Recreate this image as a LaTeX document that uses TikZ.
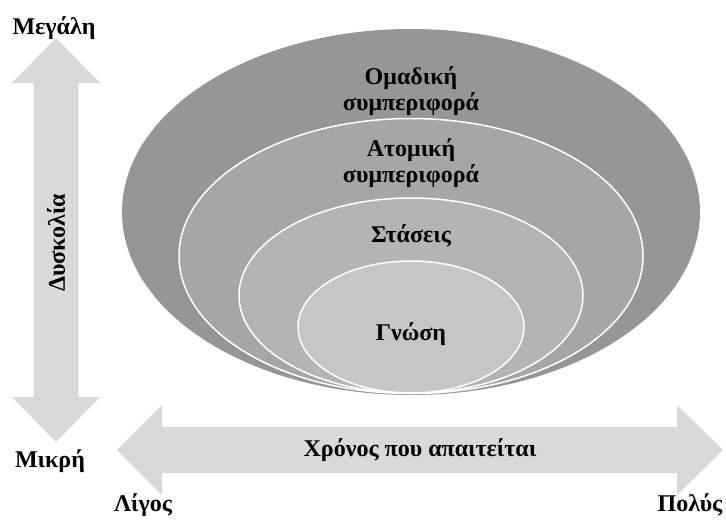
\documentclass[tikz,border=0pt]{standalone}
\usepackage{fontspec}
\setmainfont{Liberation Serif}
\begin{document}
\begin{tikzpicture}[x=1pt,y=-1pt,
  arrowfill/.style={fill=arrowgray,draw=none},
  ring/.style={draw=white,line width=1.5pt},
  lbl/.style={font=\bfseries\fontsize{24}{26}\selectfont,align=center,inner sep=0pt}]
\definecolor{arrowgray}{HTML}{D9D9D9}
\definecolor{g1}{HTML}{969696}
\definecolor{g2}{HTML}{A6A6A6}
\definecolor{g3}{HTML}{B4B4B4}
\definecolor{g4}{HTML}{C6C6C6}
\useasboundingbox (0,0) rectangle (726,520);
% vertical double arrow
\fill[arrowfill] (56,38) -- (100,83) -- (78.5,83) -- (78.5,397) -- (100,397) -- (56,442)
  -- (12,397) -- (33.5,397) -- (33.5,83) -- (12,83) -- cycle;
% horizontal double arrow
\fill[arrowfill] (117,450) -- (162,405) -- (162,427) -- (677,427) -- (677,405) -- (723,450)
  -- (677,495) -- (677,473) -- (162,473) -- (162,495) -- cycle;
% ellipses
\fill[g1] (411,212) ellipse [x radius=289, y radius=183];
\filldraw[g2,ring] (411,256) ellipse [x radius=232, y radius=137.5];
\filldraw[g3,ring] (411,295.5) ellipse [x radius=172, y radius=97.5];
\filldraw[g4,ring] (411,327) ellipse [x radius=113, y radius=66];
% labels
\node[lbl] (omad) at (411,91) {Ομαδική\\συμπεριφορά};
\node[lbl] (atom) at (411,163) {Ατομική\\συμπεριφορά};
\node[lbl] (stas) at (411,236) {Στάσεις};
\node[lbl] (gnos) at (411,334) {Γνώση};
\node[lbl] (chronos) at (420,450) {Χρόνος που απαιτείται};
\node[lbl,rotate=90] (dysk) at (56,243) {Δυσκολία};
\node[lbl] (megali) at (54,28) {Μεγάλη};
\node[lbl] (mikri) at (50,461) {Μικρή};
\node[lbl] (ligos) at (143,505) {Λίγος};
\node[lbl] (polys) at (690,505) {Πολύς};
\end{tikzpicture}
\end{document}
